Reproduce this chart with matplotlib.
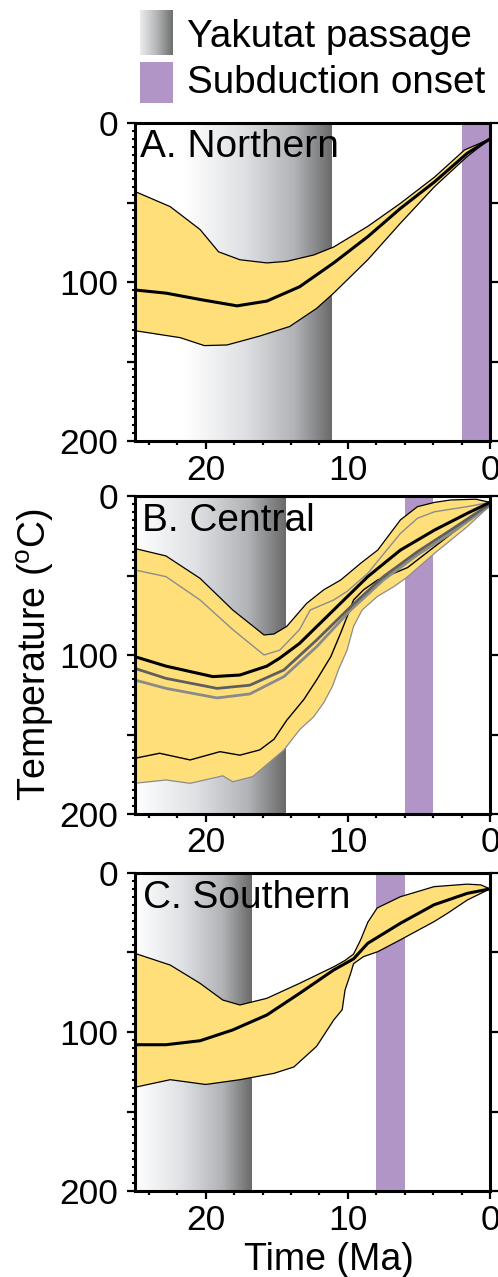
import matplotlib
matplotlib.use("Agg")
import matplotlib.pyplot as plt
import numpy as np
from matplotlib.colors import LinearSegmentedColormap
from matplotlib.patches import Rectangle
from matplotlib.ticker import MultipleLocator, FixedLocator, FuncFormatter

plt.rcParams['font.family'] = ['Liberation Sans', 'DejaVu Sans']
plt.rcParams['mathtext.fontset'] = 'custom'
plt.rcParams['mathtext.rm'] = 'Liberation Sans'

# ---- Panel A: Northern ----
a_top_age = [25, 22.5, 20.4, 19.1, 17.6, 15.7, 14.3, 12.4, 11.0, 8.6, 6.3, 3.9, 1.8, 0]
a_top_t = [43, 52.6, 67, 81, 86, 88, 87, 83, 78, 65, 50.5, 34, 17, 10]
a_mid_age = [25, 22.8, 20.4, 17.8, 15.7, 13.4, 11.0, 8.6, 6.3, 3.9, 1.6, 0]
a_mid_t = [105, 107, 111, 115, 112, 103, 88, 71.5, 53.7, 37, 19, 10]
a_bot_age = [25, 21.8, 20.1, 18.5, 16.2, 14.1, 12.2, 11.0, 8.6, 6.3, 3.9, 1.6, 0]
a_bot_t = [130.6, 135, 140, 139.6, 134, 128, 116.6, 107, 86, 63, 40, 21, 10]

# ---- Panel B: Central ----
b_top_age = [25, 22.8, 20.4, 18.1, 15.9, 15.2, 14.3, 12.9, 11.7, 10.5, 9.1, 7.9, 6.3, 5.1, 3.9, 2.76, 1.0, 0]
b_top_t = [33, 37.7, 51.8, 71.7, 87.4, 86.8, 82, 67.5, 59, 52.8, 42.3, 34, 15, 6.7, 4, 2.5, 2, 4]
b_grey_top_age = [25, 22.8, 20.4, 18.1, 15.9, 14.8, 13.4, 12.65, 11.0, 10.06, 8.6, 6.3, 5.1, 3.9, 1.6, 0]
b_grey_top_t = [46.5, 50.7, 65.4, 84, 100, 97, 84, 71.7, 65.4, 60, 48.6, 23.5, 14, 9.9, 6.7, 4]
b_mid_age = [25, 22.8, 19.5, 17.6, 15.7, 14.8, 13.4, 11.0, 8.6, 6.3, 3.9, 1.6, 0]
b_mid_t = [101, 107, 113.6, 112.6, 107, 102, 92.7, 71.7, 50.7, 34, 21.4, 10.9, 4]
b_dark_age = [25, 22.8, 19.2, 16.9, 14.5, 12.2, 9.8, 7.5, 5.1, 2.76, 0]
b_dark_t = [108.4, 114.7, 121, 119, 109.4, 90.6, 69.6, 50.7, 35, 21.4, 5]
b_light_age = [25, 22.8, 19.2, 16.9, 14.5, 12.2, 9.8, 7.5, 5.1, 2.76, 0]
b_light_t = [115.7, 121, 127, 124.5, 113.6, 94.8, 71.7, 52.8, 37, 23.5, 6]
b_low_age = [25, 23.25, 21.1, 19.0, 17.6, 16.2, 15.2, 14.3, 13.1, 12.2, 11.2, 10.5, 10.06, 9.6, 8.9, 7.9, 5.8, 2.76, 0]
b_low_t = [165, 161.8, 166, 160.8, 163, 159.7, 153, 141, 128, 115.7, 101, 86, 76, 65.4, 59, 52.8, 45, 24, 5]
b_bot_age = [25, 22.8, 21.1, 18.8, 18.1, 16.7, 14.5, 13.4, 12.4, 11.7, 11.1, 10.65, 10.06, 9.6, 9.0, 7.9, 6.76, 5.8, 3.9, 1.6, 0]
b_bot_t = [180.7, 178.6, 180.7, 176, 179.7, 176.5, 159.7, 147, 138.8, 130, 120, 109, 97, 82, 71.7, 63, 57, 50.8, 36, 19.3, 6]

# ---- Panel C: Southern ----
c_top_age = [25, 22.5, 20.4, 18.8, 17.6, 15.7, 13.4, 11.0, 10.2, 9.6, 9.1, 8.6, 7.94, 6.3, 3.94, 1.6, 0.64, 0]
c_top_t = [50.5, 57.9, 69.4, 79.9, 83, 78.8, 69.4, 59, 55, 51, 42, 31, 22, 14.9, 8.6, 7, 7.5, 10]
c_mid_age = [25, 22.8, 20.4, 18.1, 15.7, 13.4, 11.0, 9.6, 8.6, 6.3, 3.94, 1.6, 0]
c_mid_t = [108, 108, 105.5, 98.7, 89.3, 75.7, 61, 54, 44.2, 31.6, 20, 12.8, 10]
c_bot_age = [25, 22.5, 20.0, 17.6, 15.2, 13.8, 12.2, 11.0, 10.4, 10.2, 9.8, 9.6, 8.9, 7.9, 6.3, 3.94, 3.0, 1.6, 0]
c_bot_t = [134.8, 130, 133, 130, 126, 122, 109, 92.5, 86, 73.6, 63, 57, 52.6, 49.5, 42, 30.6, 25.4, 17, 10]

# Yakutat passage windows (gradient) and subduction onset windows (Ma)
yakutat = [(21.5, 11.1), (25, 14.4), (25, 16.8)]
subduction = [(2.0, 0.0), (6.0, 4.0), (8.0, 6.0)]
titles = ["A. Northern", "B. Central", "C. Southern"]

yellow = "#ffdf7a"
purple = "#b195c7"
grad_cmap = LinearSegmentedColormap.from_list(
    "yak", [(0.0, "#ffffff"), (0.4, "#dfe1e4"), (0.75, "#b1b3b6"), (1.0, "#6a6a6a")])

W, H = 498, 1277
fig = plt.figure(figsize=(W / 100, H / 100), dpi=100)

left = 134.7 / W
width = (490 - 134.7) / W
tops = [123, 496, 873]
bottoms = [441, 814, 1191]


def band(ax, x0, x1):
    grad = np.linspace(0, 1, 256).reshape(1, -1)
    ax.imshow(grad, extent=(x0, x1, 200, 0), aspect='auto', cmap=grad_cmap,
              interpolation='bilinear', zorder=0)


def envelope(ax, top_age, top_t, bot_age, bot_t, top_color='black', bot_color='black'):
    xs = list(top_age) + list(bot_age)[::-1]
    ys = list(top_t) + list(bot_t)[::-1]
    ax.fill(xs, ys, color=yellow, lw=0, zorder=2)
    ax.plot(top_age, top_t, color=top_color, lw=0.9, zorder=3)
    ax.plot(bot_age, bot_t, color=bot_color, lw=0.9, zorder=3)


axes = []
for i in range(3):
    b = 1 - bottoms[i] / H
    h = (bottoms[i] - tops[i]) / H
    ax = fig.add_axes([left, b, width, h])
    band(ax, *yakutat[i])
    s0, s1 = subduction[i]
    ax.axvspan(s0, s1, color=purple, lw=0, zorder=1)
    axes.append(ax)

ax_a, ax_b, ax_c = axes

envelope(ax_a, a_top_age, a_top_t, a_bot_age, a_bot_t)
ax_a.plot(a_mid_age, a_mid_t, color='black', lw=2.2, zorder=5)

envelope(ax_b, b_top_age, b_top_t, b_bot_age, b_bot_t, bot_color='#8c8c8c')
ax_b.plot(b_grey_top_age, b_grey_top_t, color='#8c8c8c', lw=1.0, zorder=3)
ax_b.plot(b_low_age, b_low_t, color='black', lw=1.0, zorder=3)
ax_b.plot(b_light_age, b_light_t, color='#8a8a8a', lw=2.0, zorder=4)
ax_b.plot(b_dark_age, b_dark_t, color='#5e5e5e', lw=2.0, zorder=4)
ax_b.plot(b_mid_age, b_mid_t, color='black', lw=2.2, zorder=5)

envelope(ax_c, c_top_age, c_top_t, c_bot_age, c_bot_t)
ax_c.plot(c_mid_age, c_mid_t, color='black', lw=2.2, zorder=5)

label_pos = [(140, 157), (141.7, 530.7), (143, 907.7)]

for ax, title, (tx, ty) in zip(axes, titles, label_pos):
    ax.set_xlim(25, 0)
    ax.set_ylim(200, 0)
    for sp in ax.spines.values():
        sp.set_linewidth(2.2)
        sp.set_zorder(10)
    ax.xaxis.set_major_locator(FixedLocator([0, 10, 20]))
    ax.xaxis.set_minor_locator(MultipleLocator(2))
    ax.yaxis.set_major_locator(FixedLocator([0, 50, 100, 150, 200]))
    ax.yaxis.set_minor_locator(MultipleLocator(5))
    ax.yaxis.set_major_formatter(FuncFormatter(lambda v, p: "%d" % v if v % 100 == 0 else ""))
    ax.tick_params(which='major', direction='out', length=6, width=1.6,
                   labelsize=25.5, right=True, top=False)
    ax.tick_params(axis='x', which='major', pad=3)
    ax.tick_params(axis='y', which='major', pad=6)
    ax.tick_params(axis='x', which='minor', direction='out', length=3, width=1.6,
                   top=False)
    ax.tick_params(axis='y', which='minor', direction='out', length=2, width=1.5,
                   right=False)
    fig.text(tx / W, 1 - ty / H, title, fontsize=28, va='baseline', ha='left', zorder=20)

fig.text(35 / W, 1 - 655 / H, r'Temperature ($^{\rm o}$C)', fontsize=27,
         rotation=90, ha='center', va='center')
fig.text(329 / W, 1 - 1270 / H, 'Time (Ma)', fontsize=27, ha='center', va='baseline')

# legend drawn by hand: gradient swatch + purple swatch
leg = fig.add_axes([140 / W, 1 - 55 / H, 33 / W, 45 / H])
leg.imshow(np.linspace(0, 1, 256).reshape(1, -1), aspect='auto',
           cmap=LinearSegmentedColormap.from_list("legyak", ["#ececec", "#b5b7ba", "#6e6e6e"]),
           extent=(0, 1, 0, 1))
leg.set_axis_off()
fig.patches.append(Rectangle((140 / W, 1 - 103 / H), 33 / W, 41 / H,
                             transform=fig.transFigure, color=purple, lw=0))
fig.text(187 / W, 1 - 46.7 / H, 'Yakutat passage', fontsize=27.8, va='baseline')
fig.text(187 / W, 1 - 93.3 / H, 'Subduction onset', fontsize=27.8, va='baseline')

fig.savefig("out.png", dpi=100)
